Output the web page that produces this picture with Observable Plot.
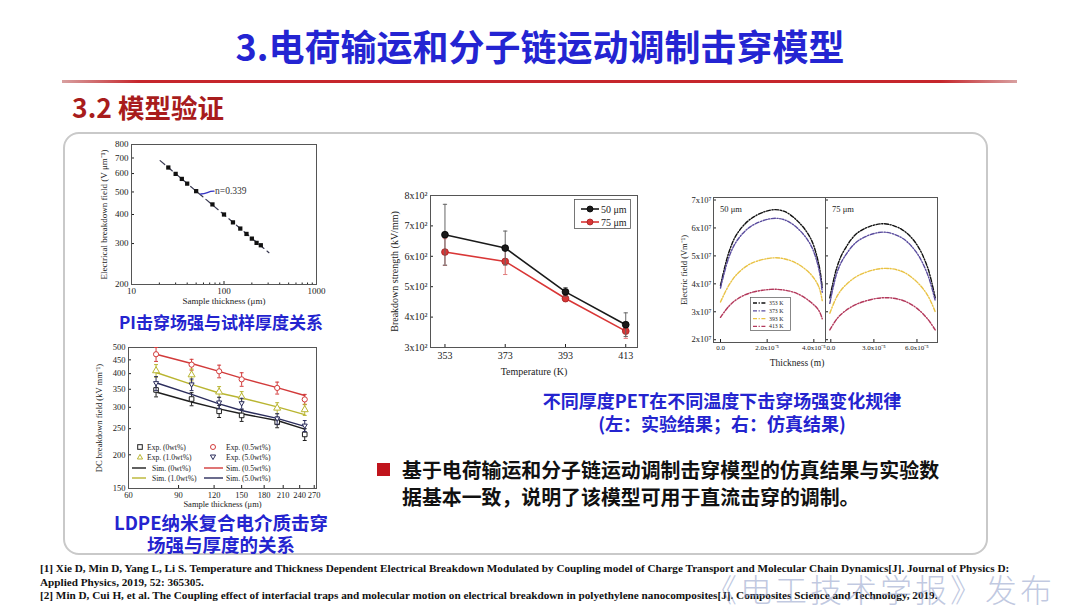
<!DOCTYPE html>
<html><head><meta charset="utf-8">
<script src="https://cdn.jsdelivr.net/npm/d3@7"></script>
<script src="https://cdn.jsdelivr.net/npm/@observablehq/plot@0.6"></script>
<style>
body{margin:0;background:#fff;}
#slide{position:relative;width:1080px;height:608px;overflow:hidden;background:#fff;font-family:"Noto Sans CJK SC",sans-serif;}
.abs{position:absolute;white-space:nowrap;}
.title{left:0;width:1080px;top:21px;text-align:center;font-size:36px;font-weight:700;color:#2424d2;line-height:48px;}
.rule{left:62px;top:80px;width:955px;height:3px;background:linear-gradient(90deg,#d8a0a0,#c6262c 8%,#c6262c 92%,#d8a0a0);}
.sub{left:72px;top:91px;font-size:26.5px;font-weight:700;color:#a81c1c;line-height:32px;}
.box{left:63px;top:132px;width:921px;height:419px;border:2px solid #c9c9c9;border-radius:16px;}
.cap{font-weight:700;color:#2424cf;text-align:center;}
.foot{left:40px;top:562px;font-family:"Liberation Serif",serif;font-weight:700;font-size:11.2px;line-height:13.6px;color:#111;}
.wm{left:705px;top:571px;font-size:32px;line-height:34px;color:rgba(140,155,200,0.55);letter-spacing:3px;font-weight:300;}
</style></head>
<body><div id="slide">
<div class="abs title">3.电荷输运和分子链运动调制击穿模型</div>
<div class="abs rule"></div>
<div class="abs sub">3.2 模型验证</div>
<div class="abs box"></div>
<div class="abs cap" style="left:101px;width:240px;top:310px;font-size:17px;line-height:24px;">PI击穿场强与试样厚度关系</div>
<div class="abs cap" style="left:81px;width:280px;top:512px;font-size:18.5px;line-height:21px;">LDPE纳米复合电介质击穿</div>
<div class="abs cap" style="left:81px;width:280px;top:534px;font-size:18.5px;line-height:21px;">场强与厚度的关系</div>
<div class="abs cap" style="left:522px;width:400px;top:389px;font-size:18px;line-height:22.5px;">不同厚度PET在不同温度下击穿场强变化规律<br>(左：实验结果；右：仿真结果)</div>
<div class="abs" style="left:377px;top:463px;width:13px;height:13px;background:#c0141c;"></div>
<div class="abs" style="left:402px;top:456px;font-size:19.9px;font-weight:700;line-height:27px;color:#111;">基于电荷输运和分子链运动调制击穿模型的仿真结果与实验数<br>据基本一致，说明了该模型可用于直流击穿的调制。</div>
<div class="abs foot">[1] Xie D, Min D, Yang L, Li S. Temperature and Thickness Dependent Electrical Breakdown Modulated by Coupling model of Charge Transport and Molecular Chain Dynamics[J]. Journal of Physics D:<br>Applied Physics, 2019, 52: 365305.<br>[2] Min D, Cui H, et al. The Coupling effect of interfacial traps and molecular motion on electrical breakdown in polyethylene nanocomposites[J]. Composites Science and Technology, 2019.</div>
<div class="abs wm">《电工技术学报》发布</div>
</div>
<script>
// ---------- PI chart data ----------
const piThickness = [25,30,35,40,50,75,100,125,150,175,200,225,250];
const piField = [637,598,569,543,504,442,400,370,348,330,315,302,295];
const piFitThickness = [20.4,306];
const piFitField = [682,274];
const piArrowThickness = [56,78];
const piArrowField = [490,504];
const piNoteText = "n=0.339";
const piXTicks = [10,100,1000];
const piXMinor = [20,30,40,50,60,70,80,90,200,300,400,500,600,700,800,900];
const piYTicks = [200,300,400,500,600,700,800];

// ---------- LDPE chart data ----------
const ldpeThickness = [75,100,125,150,200,250];
const ldpeSeries = ["0wt%","0.5wt%","1.0wt%","5.0wt%"];
const simField = {
  "0wt%":   [342,314,296,284,268,249],
  "0.5wt%": [472,436,408,385,355,332],
  "1.0wt%": [404,365,339,325,301,282],
  "5.0wt%": [370,335,309,292,273,255]
};
const expField = {
  "0wt%":   [348,322,290,280,264,238],
  "0.5wt%": [472,432,408,381,354,321],
  "1.0wt%": [410,396,342,328,298,294],
  "5.0wt%": [368,364,312,310,272,256]
};
const expErr = {
  "0wt%":   [20,18,15,14,12,12],
  "0.5wt%": [28,20,22,22,18,14],
  "1.0wt%": [22,20,16,15,14,14],
  "5.0wt%": [22,18,15,14,12,12]
};
const ldpeXTicks = [60,90,120,150,180,210,240,270];
const ldpeYTicks = [150,200,250,300,350,400,450,500];

// ---------- PET chart data ----------
const petTemps = [353,373,393,413];
const pet50 = [671,627,483,375];
const pet50Err = [100,56,14,39];
const pet75 = [614,583,461,354];
const pet75Err = [44,43,10,24];
const petYTicks = [300,400,500,600,700,800];

// ---------- Simulation chart data ----------
const simTemps = ["353 K","373 K","393 K","413 K"];
const pos50 = [0,0.36e-5,0.71e-5,1.29e-5,2.14e-5,2.71e-5,3.29e-5,3.86e-5,4.21e-5,4.36e-5];
const e50 = {
  "353 K": [3.94e7,5.13e7,5.79e7,6.32e7,6.64e7,6.60e7,6.26e7,5.63e7,4.71e7,3.88e7],
  "373 K": [3.85e7,4.95e7,5.55e7,6.05e7,6.33e7,6.30e7,6.00e7,5.40e7,4.55e7,3.70e7],
  "393 K": [3.35e7,3.95e7,4.35e7,4.72e7,4.92e7,4.90e7,4.72e7,4.35e7,3.90e7,3.40e7],
  "413 K": [2.80e7,3.20e7,3.45e7,3.68e7,3.80e7,3.78e7,3.65e7,3.35e7,3.05e7,2.75e7]
};
const pos75 = [0,0.5e-5,1.0e-5,2.0e-5,3.67e-5,5.0e-5,6.0e-5,6.8e-5,7.34e-5];
const e75 = {
  "353 K": [3.50e7,4.60e7,5.20e7,5.85e7,6.15e7,5.95e7,5.45e7,4.60e7,3.50e7],
  "373 K": [3.30e7,4.40e7,4.95e7,5.55e7,5.85e7,5.65e7,5.15e7,4.35e7,3.40e7],
  "393 K": [2.95e7,3.55e7,3.90e7,4.30e7,4.55e7,4.45e7,4.10e7,3.60e7,3.00e7],
  "413 K": [2.35e7,2.75e7,3.00e7,3.30e7,3.50e7,3.42e7,3.15e7,2.75e7,2.35e7]
};
const simYTicks = [2e7,3e7,4e7,5e7,6e7,7e7];
const sim50XTicks = [0,2e-5,4e-5];
const sim75XTicks = [0,3e-5,6e-5];

// ---------- helpers ----------
const slide = document.getElementById("slide");
function place(el, left, top){ el.style.position="absolute"; el.style.left=left+"px"; el.style.top=top+"px"; slide.appendChild(el); return el; }
const serif = "'Liberation Serif','Times New Roman',serif";
const baseStyle = {fontFamily: serif, fontSize:"9px", color:"#222", background:"transparent", overflow:"visible"};
const capSymbol = {draw(ctx,size){ const w=Math.sqrt(size)/2; ctx.moveTo(-w,0); ctx.lineTo(w,0); }};
const triDown = {draw(ctx,size){ const h=Math.sqrt(size)*0.55; ctx.moveTo(-h,-h*0.7); ctx.lineTo(h,-h*0.7); ctx.lineTo(0,h*1.0); ctx.closePath(); }};
const ldpeColor = {"0wt%":"#1e1e1e","0.5wt%":"#d23a3a","1.0wt%":"#b9b531","5.0wt%":"#2b2d5c"};
const ldpeSymbol = {"0wt%":"square","0.5wt%":"circle","1.0wt%":"triangle","5.0wt%":triDown};
const simColor = {"353 K":"#111111","373 K":"#5a4c9e","393 K":"#e9c244","413 K":"#b3385b"};
const simDash = "4,1.6,1.2,1.6";

// ---------- PI chart ----------
const piData = piThickness.map((t,i)=>({t, e:piField[i]}));
const piFit = piFitThickness.map((t,i)=>({t, e:piFitField[i]}));
const piArrow = piArrowThickness.map((t,i)=>({t, e:piArrowField[i]}));
const piNote = [{t:piArrowThickness[1], e:piArrowField[1], label:piNoteText}];
place(Plot.plot({
  width:260, height:175, marginLeft:41, marginRight:34, marginTop:9, marginBottom:26,
  style: baseStyle,
  x:{type:"log", domain:[10,1000]},
  y:{type:"log", domain:[200,800]},
  marks:[
    Plot.axisX({ticks:piXTicks, tickFormat:d=>String(d), tickSize:-3, tickPadding:6, label:"Sample thickness (μm)", labelAnchor:"center", labelArrow:"none", labelOffset:19}),
    Plot.axisX({ticks:piXMinor, tickFormat:()=>"", tickSize:-1.5, label:null}),
    Plot.axisY({ticks:piYTicks, tickFormat:d=>String(d), tickSize:-3, tickPadding:6, label:"Electrical breakdown field (V μm⁻¹)", labelAnchor:"center", labelArrow:"none", labelOffset:31}),
    Plot.frame({stroke:"#555"}),
    Plot.line(piFit, {x:"t", y:"e", stroke:"#3a3a52", strokeWidth:1.2, strokeDasharray:"6,4"}),
    Plot.dot(piData, {x:"t", y:"e", symbol:"square", fill:"#111", r:2.4}),
    Plot.line(piArrow, {x:"t", y:"e", stroke:"#3434c4", strokeWidth:1.3, curve:"bump-x"}),
    Plot.text(piNote, {x:"t", y:"e", text:"label", textAnchor:"start", dx:1, fontSize:9.5, fill:"#333"})
  ]
}), 90, 135);

// ---------- LDPE chart ----------
const ldpeSim = ldpeSeries.flatMap(s=>ldpeThickness.map((t,i)=>({s, t, v:simField[s][i]})));
const ldpeExp = ldpeSeries.flatMap(s=>ldpeThickness.map((t,i)=>({s, t, v:expField[s][i], lo:expField[s][i]-expErr[s][i], hi:expField[s][i]+expErr[s][i]})));
const ldpeMarks = [
  Plot.axisX({ticks:ldpeXTicks, tickFormat:d=>String(d), tickSize:-3, tickPadding:6, label:"Sample thickness (μm)", labelAnchor:"center", labelArrow:"none", labelOffset:18}),
  Plot.axisY({ticks:ldpeYTicks, tickFormat:d=>String(d), tickSize:-3, tickPadding:6, label:"DC breakdown field (kV mm⁻¹)", labelAnchor:"center", labelArrow:"none", labelOffset:33}),
  Plot.frame({stroke:"#555"})
];
for (const s of ldpeSeries){
  const sim = ldpeSim.filter(d=>d.s===s), ex = ldpeExp.filter(d=>d.s===s);
  ldpeMarks.push(
    Plot.ruleX(ex, {x:"t", y1:"lo", y2:"hi", stroke:ldpeColor[s], strokeWidth:1}),
    Plot.dot(ex, {x:"t", y:"lo", symbol:capSymbol, r:2.2, stroke:ldpeColor[s], strokeWidth:1}),
    Plot.dot(ex, {x:"t", y:"hi", symbol:capSymbol, r:2.2, stroke:ldpeColor[s], strokeWidth:1}),
    Plot.line(sim, {x:"t", y:"v", stroke:ldpeColor[s], strokeWidth:1.4}),
    Plot.dot(ex, {x:"t", y:"v", symbol:ldpeSymbol[s], r:2.6, stroke:ldpeColor[s], fill:"white", strokeWidth:1})
  );
}
place(Plot.plot({
  width:270, height:170, marginLeft:43, marginRight:39, marginTop:7, marginBottom:22,
  style: {...baseStyle, fontSize:"8.5px"},
  x:{type:"log", domain:[60,275]},
  y:{type:"log", domain:[150,500]},
  marks: ldpeMarks
}), 85, 340);

// LDPE legend (HTML overlay)
(function(){
  const rows = [
    [{k:"sym",s:"0wt%",x:140,t:"Exp. (0wt%)",tx:147},{k:"sym",s:"0.5wt%",x:213,t:"Exp. (0.5wt%)",tx:226}],
    [{k:"sym",s:"1.0wt%",x:140,t:"Exp. (1.0wt%)",tx:147},{k:"sym",s:"5.0wt%",x:213,t:"Exp. (5.0wt%)",tx:226}],
    [{k:"line",s:"0wt%",x:132,t:"Sim. (0wt%)",tx:152},{k:"line",s:"0.5wt%",x:204,t:"Sim. (0.5wt%)",tx:226}],
    [{k:"line",s:"1.0wt%",x:132,t:"Sim. (1.0wt%)",tx:152},{k:"line",s:"5.0wt%",x:204,t:"Sim. (5.0wt%)",tx:226}]
  ];
  const ys = [447,457,468,478];
  let svg = `<svg width="1080" height="608" style="position:absolute;left:0;top:0;pointer-events:none;overflow:visible" font-family="${serif}" font-size="7.6">`;
  rows.forEach((r,ri)=>{ const y = ys[ri]; r.forEach(c=>{
    const col = ldpeColor[c.s];
    if (c.k==="line") svg += `<line x1="${c.x}" x2="${c.x+(c.s==="0wt%"||c.s==="1.0wt%"?14:19)}" y1="${y}" y2="${y}" stroke="${col}" stroke-width="1.4"/>`;
    else if (c.s==="0wt%") svg += `<rect x="${c.x-2.3}" y="${y-2.3}" width="4.6" height="4.6" fill="none" stroke="${col}"/>`;
    else if (c.s==="0.5wt%") svg += `<circle cx="${c.x}" cy="${y}" r="2.5" fill="none" stroke="${col}"/>`;
    else if (c.s==="1.0wt%") svg += `<path d="M${c.x-2.6},${y+2} L${c.x+2.6},${y+2} L${c.x},${y-2.6}Z" fill="none" stroke="${col}"/>`;
    else svg += `<path d="M${c.x-2.6},${y-2} L${c.x+2.6},${y-2} L${c.x},${y+2.6}Z" fill="none" stroke="${col}"/>`;
    svg += `<text x="${c.tx}" y="${y+2.6}" fill="#222">${c.t}</text>`;
  });});
  svg += `</svg>`;
  const d = document.createElement("div"); d.innerHTML = svg; place(d,0,0);
})();

// ---------- PET chart ----------
const petData = [
  ...petTemps.map((t,i)=>({g:"50 μm", t, v:pet50[i], lo:pet50[i]-pet50Err[i], hi:pet50[i]+pet50Err[i]})),
  ...petTemps.map((t,i)=>({g:"75 μm", t, v:pet75[i], lo:pet75[i]-pet75Err[i], hi:pet75[i]+pet75Err[i]}))
];
const petColor = {"50 μm":"#1a1a1a","75 μm":"#d93636"};
const petErrColor = {"50 μm":"#666","75 μm":"#e07a7a"};
const petMarks = [
  Plot.axisX({ticks:petTemps, tickFormat:d=>String(d), tickSize:-3, tickPadding:7, fontSize:10, label:"Temperature (K)", labelAnchor:"center", labelArrow:"none", labelOffset:27}),
  Plot.axisY({ticks:petYTicks, tickFormat:d=>`${d/100}x10²`, tickSize:-3, tickPadding:6, fontSize:10, label:"Breakdown strength (kV/mm)", labelAnchor:"center", labelArrow:"none", labelOffset:40}),
  Plot.frame({stroke:"#555"})
];
for (const g of ["75 μm","50 μm"]){
  const d = petData.filter(r=>r.g===g);
  petMarks.push(
    Plot.ruleX(d, {x:"t", y1:"lo", y2:"hi", stroke:petErrColor[g], strokeWidth:1}),
    Plot.dot(d, {x:"t", y:"lo", symbol:capSymbol, r:2.4, stroke:petErrColor[g], strokeWidth:1}),
    Plot.dot(d, {x:"t", y:"hi", symbol:capSymbol, r:2.4, stroke:petErrColor[g], strokeWidth:1}),
    Plot.line(d, {x:"t", y:"v", stroke:petColor[g], strokeWidth:1.6}),
    Plot.dot(d, {x:"t", y:"v", r:3.4, fill:petColor[g], stroke:g==="50 μm"?"#000":"#a02222", strokeWidth:0.8})
  );
}
place(Plot.plot({
  width:270, height:200, marginLeft:50, marginRight:13, marginTop:10, marginBottom:38,
  style: {...baseStyle, fontSize:"10px"},
  x:{domain:[348.2,416.9]},
  y:{domain:[300,800]},
  marks: petMarks
}), 380, 185);
(function(){
  let svg = `<svg width="1080" height="608" style="position:absolute;left:0;top:0;pointer-events:none;overflow:visible" font-family="${serif}" font-size="10">`;
  svg += `<rect x="574.5" y="199.5" width="56" height="29" fill="white" stroke="#555" stroke-width="0.8"/>`;
  [["50 μm",209],["75 μm",222]].forEach(([g,y])=>{
    svg += `<line x1="581" x2="599" y1="${y}" y2="${y}" stroke="${petColor[g]}" stroke-width="1.6"/>`;
    svg += `<circle cx="590" cy="${y}" r="3" fill="${petColor[g]}" stroke="${g==="50 μm"?"#000":"#a02222"}" stroke-width="0.8"/>`;
    svg += `<text x="601" y="${y+3.5}" fill="#222">${g}</text>`;
  });
  svg += `</svg>`;
  const d = document.createElement("div"); d.innerHTML = svg; place(d,0,0);
})();

// ---------- Simulation charts ----------
const sim50 = simTemps.flatMap(k=>pos50.map((x,i)=>({k, x, e:e50[k][i]})));
const sim75 = simTemps.flatMap(k=>pos75.map((x,i)=>({k, x, e:e75[k][i]})));
const fmtX = d => d===0 ? "0.0" : `${(d/1e-5).toFixed(1)}x10⁻⁵`;
const fmtY = d => `${Math.round(d/1e7)}x10⁷`;
function simLines(data){ return simTemps.map(k=>Plot.line(data.filter(d=>d.k===k), {x:"x", y:"e", stroke:simColor[k], strokeWidth:1.4, strokeDasharray:simDash, curve:"catmull-rom"})); }
place(Plot.plot({
  width:156, height:190, marginLeft:43, marginRight:1, marginTop:17, marginBottom:28,
  style: {...baseStyle, fontSize:"7.5px"},
  x:{domain:[-0.3e-5,4.5e-5]},
  y:{domain:[1.9e7,7.09e7]},
  marks:[
    Plot.axisX({ticks:sim50XTicks, tickFormat:fmtX, tickSize:-3, tickPadding:6, fontSize:7, label:null}),
    Plot.axisY({ticks:simYTicks, tickFormat:fmtY, tickSize:-3, tickPadding:5, label:"Electric field (Vm⁻¹)", labelAnchor:"center", labelArrow:"none", labelOffset:33, fontSize:8.5}),
    Plot.frame({stroke:"#555"}),
    ...simLines(sim50)
  ]
}), 670, 180);
place(Plot.plot({
  width:121, height:190, marginLeft:1, marginRight:8, marginTop:17, marginBottom:28,
  style: {...baseStyle, fontSize:"7.5px"},
  x:{domain:[-0.3e-5,7.5e-5]},
  y:{domain:[1.9e7,7.09e7]},
  marks:[
    Plot.axisX({ticks:sim75XTicks, tickFormat:fmtX, tickSize:-3, tickPadding:6, fontSize:7, label:null, textAnchor:"middle", dx:1}),
    Plot.axisY({ticks:simYTicks, tickFormat:()=>"", tickSize:-3, label:null}),
    Plot.frame({stroke:"#555"}),
    ...simLines(sim75)
  ]
}), 824, 180);
(function(){
  let svg = `<svg width="1080" height="608" style="position:absolute;left:0;top:0;pointer-events:none;overflow:visible" font-family="${serif}">`;
  svg += `<text x="720" y="212" font-size="8.5" fill="#222">50 μm</text>`;
  svg += `<text x="832" y="212" font-size="8.5" fill="#222">75 μm</text>`;
  svg += `<text x="797" y="366" font-size="9.5" fill="#222" text-anchor="middle">Thickness (m)</text>`;
  svg += `<rect x="750.5" y="297.5" width="40" height="33" fill="white" stroke="#555" stroke-width="0.7"/>`;
  simTemps.forEach((k,i)=>{ const y = 303 + i*7.8;
    svg += `<line x1="753" x2="767" y1="${y}" y2="${y}" stroke="${simColor[k]}" stroke-width="1.3" stroke-dasharray="${simDash}"/>`;
    svg += `<text x="769" y="${y+2}" font-size="5.8" fill="#222">${k}</text>`;
  });
  svg += `</svg>`;
  const d = document.createElement("div"); d.innerHTML = svg; place(d,0,0);
})();
</script>
</body></html>
